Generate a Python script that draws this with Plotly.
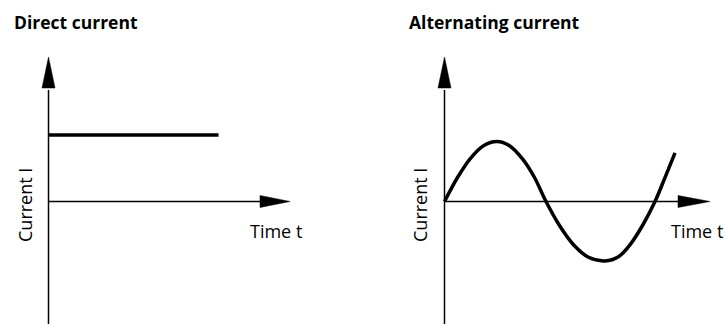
import plotly.graph_objects as go

# ---- data ----
dc_time = [0.0, 1.70]
dc_current = [1.11, 1.11]

ac_time = [0, 0.13, 0.26, 0.39, 0.525, 0.65, 0.78, 0.90, 1.015,
           1.15, 1.29, 1.44, 1.605, 1.74, 1.86, 1.98, 2.105, 2.21, 2.305]
ac_current = [0, 0.40, 0.72, 0.93, 1.0, 0.93, 0.71, 0.40, 0,
              -0.40, -0.72, -0.93, -0.99, -0.92, -0.71, -0.40, 0, 0.42, 0.81]

titles = ["Direct current", "Alternating current"]
x_label = "Time t"
y_label = "Current I"

# ---- layout helpers (pixel geometry of the 725x324 canvas) ----
W, H = 725, 324
PX_PER_X, PX_PER_Y = 100.0, 60.0
ORIG_Y = 201.5
panels = [
    dict(ox=48.5, left=35, right=300, tip=290, base=260, title_x=12, xlab=276, ylab=25),
    dict(ox=444.5, left=430, right=722, tip=710, base=678, title_x=407, xlab=697, ylab=420),
]
TOP_PX, BOT_PX = 50, 324
ARROW_TIP_Y, ARROW_BASE_Y = 57, 88


def fx(px):
    return px / W


def fy(py):
    return 1 - py / H


fig = go.Figure()
shapes, annotations = [], []
layout_axes = {}

for i, p in enumerate(panels):
    n = "" if i == 0 else str(i + 1)
    xr = [(p["left"] - p["ox"]) / PX_PER_X, (p["right"] - p["ox"]) / PX_PER_X]
    yr = [(ORIG_Y - BOT_PX) / PX_PER_Y, (ORIG_Y - TOP_PX) / PX_PER_Y]
    layout_axes["xaxis" + n] = dict(domain=[fx(p["left"]), fx(p["right"])], range=xr,
                                    visible=False, fixedrange=True,
                                    anchor="y" + n)
    layout_axes["yaxis" + n] = dict(domain=[fy(BOT_PX), fy(TOP_PX)], range=yr,
                                    visible=False, fixedrange=True,
                                    anchor="x" + n)
    ox = p["ox"]
    # axis lines
    shapes.append(dict(type="line", xref="paper", yref="paper",
                       x0=fx(ox), x1=fx(ox), y0=fy(H), y1=fy(ARROW_BASE_Y + 2),
                       line=dict(color="black", width=1.5)))
    shapes.append(dict(type="line", xref="paper", yref="paper",
                       x0=fx(ox), x1=fx(p["base"] + 2), y0=fy(ORIG_Y), y1=fy(ORIG_Y),
                       line=dict(color="black", width=1.5)))
    # arrowheads
    hw = 6.5
    shapes.append(dict(type="path", xref="paper", yref="paper",
                       path=f"M {fx(ox)},{fy(ARROW_TIP_Y)} L {fx(ox - hw)},{fy(ARROW_BASE_Y)} "
                            f"L {fx(ox + hw)},{fy(ARROW_BASE_Y)} Z",
                       fillcolor="black", line=dict(color="black", width=0.5)))
    hh = 6
    shapes.append(dict(type="path", xref="paper", yref="paper",
                       path=f"M {fx(p['tip'])},{fy(ORIG_Y)} L {fx(p['base'])},{fy(ORIG_Y - hh)} "
                            f"L {fx(p['base'])},{fy(ORIG_Y + hh)} Z",
                       fillcolor="black", line=dict(color="black", width=0.5)))
    # texts
    annotations.append(dict(text="<b>" + titles[i] + "</b>", xref="paper", yref="paper",
                            x=fx(p["title_x"]), y=fy(22), xanchor="left", yanchor="middle",
                            showarrow=False, font=dict(family="Open Sans", size=17.5, color="black")))
    annotations.append(dict(text=x_label, xref="paper", yref="paper",
                            x=fx(p["xlab"]), y=fy(231), xanchor="center", yanchor="middle",
                            showarrow=False, font=dict(family="Open Sans", size=18, color="black")))
    annotations.append(dict(text=y_label, xref="paper", yref="paper",
                            x=fx(p["ylab"]), y=fy(205), xanchor="center", yanchor="middle",
                            textangle=-90,
                            showarrow=False, font=dict(family="Open Sans", size=18, color="black")))

fig.add_trace(go.Scatter(x=dc_time, y=dc_current, mode="lines",
                         line=dict(color="black", width=3.5),
                         xaxis="x", yaxis="y", hoverinfo="skip", cliponaxis=False))
fig.add_trace(go.Scatter(x=ac_time, y=ac_current, mode="lines",
                         line=dict(color="black", width=3.5, shape="spline", smoothing=1.0),
                         xaxis="x2", yaxis="y2", hoverinfo="skip", cliponaxis=False))

fig.update_layout(
    width=W, height=H,
    margin=dict(l=0, r=0, t=0, b=0),
    paper_bgcolor="white", plot_bgcolor="rgba(0,0,0,0)",
    showlegend=False,
    shapes=shapes, annotations=annotations,
    **layout_axes,
)

fig.write_html("out.html",
               config={"displayModeBar": False, "staticPlot": True},
               post_script="document.body.style.margin='0';document.body.style.padding='0';")
